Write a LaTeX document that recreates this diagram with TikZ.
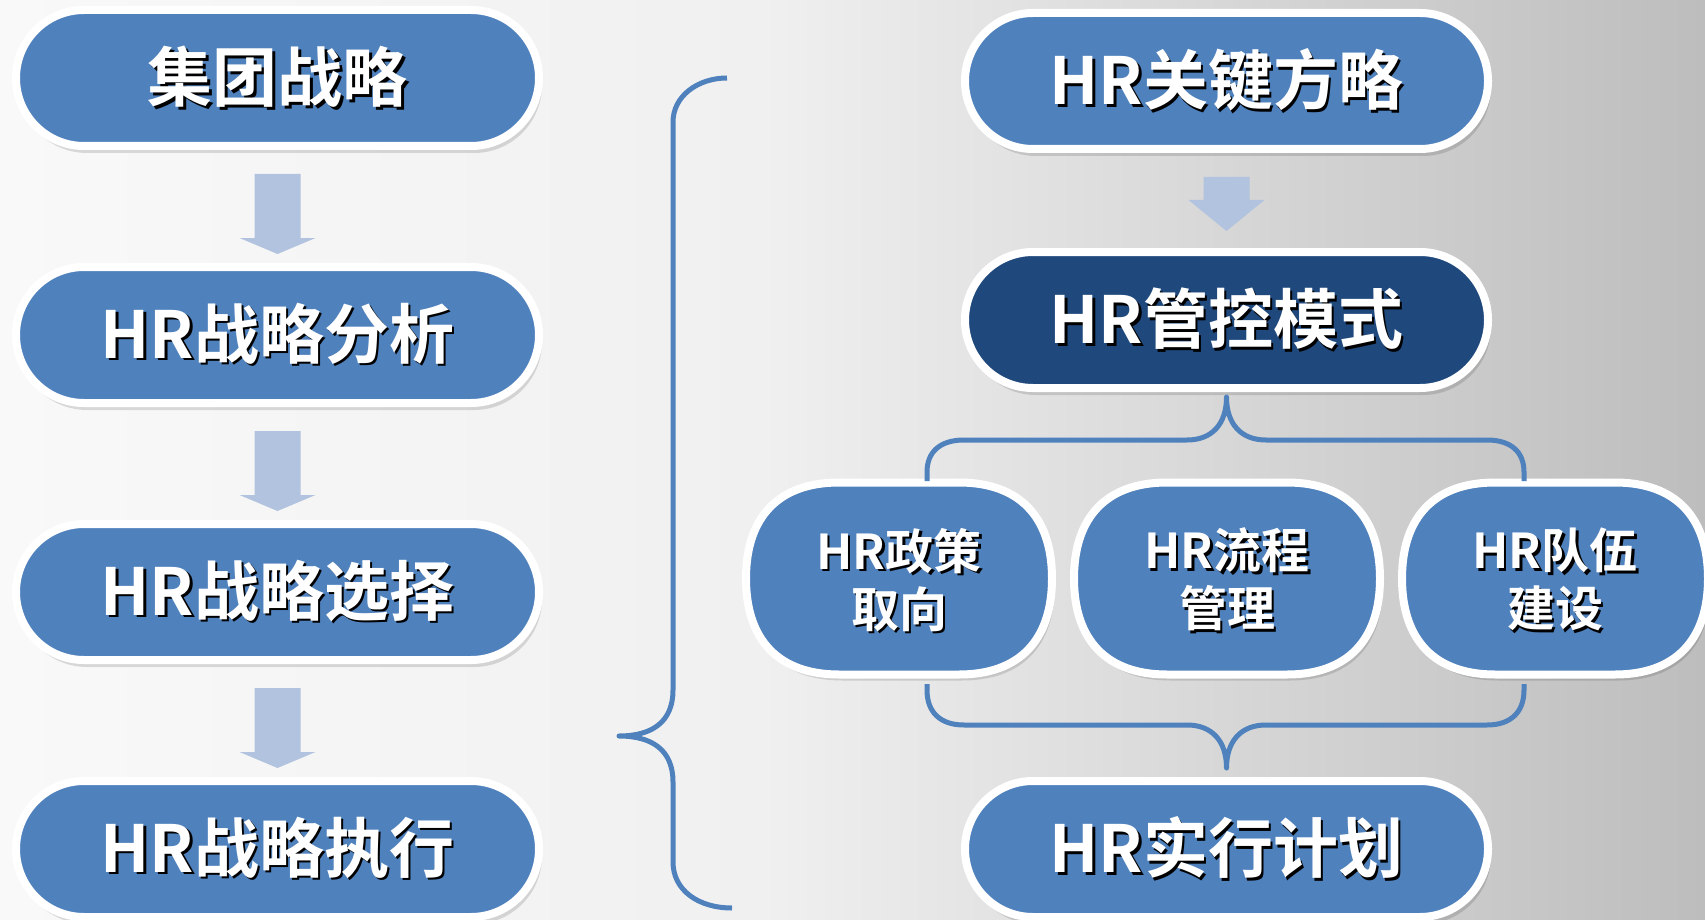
\documentclass[tikz,border=0pt]{standalone}
\usepackage{fontspec}
\newfontfamily\cjkb{Noto Sans CJK SC Bold}
\usetikzlibrary{calc,shadows}
\definecolor{pblue}{HTML}{4F81BD}
\definecolor{dblue}{HTML}{1F497D}
\definecolor{arrowc}{HTML}{B1C3DE}
\definecolor{bracec}{HTML}{4F81BD}
\definecolor{bgl}{HTML}{F9F9F9}
\definecolor{bgm}{HTML}{F0F0F0}
\definecolor{bgr}{HTML}{BDBDBD}
\newcommand\shd[1]{{\rlap{\kern2.5pt\raisebox{-2.5pt}{\color{black}#1}}\color{white}#1}}
% rounded blob: style, cx, cy
\newcommand\blobpath{(153,0) .. controls (153,62) and (120,96) .. (60,96) -- (-60,96) .. controls (-120,96) and (-153,62) .. (-153,0) .. controls (-153,-62) and (-120,-96) .. (-60,-96) -- (60,-96) .. controls (120,-96) and (153,-62) .. (153,0) -- cycle}
\newcommand\mysq[3]{%
  \fill[black,opacity=0.13,shift={(#2+3,#3+6)}] \blobpath;
  \draw[#1,shift={(#2,#3)}] \blobpath;}
% block arrow: from node, to node, head height, tip gap
\newcommand\barrow[4]{%
  \fill[arrowc] let \p1=(#1.south), \p2=(#2.north) in
    (\x1-23pt,\y1-24pt) -- (\x1+23pt,\y1-24pt) -- (\x1+23pt,\y2+#4pt+#3pt) -- (\x1+38pt,\y2+#4pt+#3pt)
    -- (\x1,\y2+#4pt) -- (\x1-38pt,\y2+#4pt+#3pt) -- (\x1-23pt,\y2+#4pt+#3pt) -- cycle;}
\begin{document}
\begin{tikzpicture}[x=1pt,y=-1pt,
  pill/.style={draw=white, line width=8pt, fill=pblue, rounded corners=68pt,
    minimum width=523pt, minimum height=136pt, inner sep=0pt, text=white,
    font=\cjkb\fontsize{65}{72}\selectfont,
    drop shadow={shadow xshift=3pt, shadow yshift=-7pt, opacity=0.13, fill=black}},
  darkpill/.style={pill, fill=dblue},
  sqstyle/.style={draw=white, line width=8pt, fill=pblue},
  ctext/.style={inner sep=0pt, text=white, align=center,
    font=\cjkb\fontsize{48}{58}\selectfont},
  brace/.style={draw=bracec, line width=5pt, line cap=butt, line join=round}]
\useasboundingbox (0,0) rectangle (1705,920);
\clip (0,0) rectangle (1705,920);
\shade[left color=bgl, right color=bgm] (0,0) rectangle (761,920);
\shade[left color=bgm, right color=bgr] (760,0) rectangle (1705,920);

% left column
\node[pill] (l1) at (277.5,78) {\shd{集团战略}};
\node[pill] (l2) at (277.5,335) {\shd{HR战略分析}};
\node[pill] (l3) at (277.5,592) {\shd{HR战略选择}};
\node[pill] (l4) at (277.5,849) {\shd{HR战略执行}};
\barrow{l1}{l2}{16}{9}
\barrow{l2}{l3}{16}{9}
\barrow{l3}{l4}{16}{9}

% right column
\node[pill] (r1) at (1226.5,81) {\shd{HR关键方略}};
\node[darkpill] (r2) at (1226.5,320) {\shd{HR管控模式}};
\node[pill] (r3) at (1226.5,849) {\shd{HR实行计划}};
\barrow{r1}{r2}{31}{17}

% three rounded blobs
\mysq{sqstyle}{899}{578.5}
\mysq{sqstyle}{1227}{578.5}
\mysq{sqstyle}{1555}{578.5}
\node[ctext] (c1) at (899,581) {\shd{HR政策}\\\shd{取向}};
\node[ctext] (c2) at (1227,581) {\shd{HR流程}\\\shd{管理}};
\node[ctext] (c3) at (1555,581) {\shd{HR队伍}\\\shd{建设}};

% big left brace
\coordinate (bt) at (727,78);
\coordinate (bb) at (732,908);
\coordinate (btip) at (619,736);
\draw[brace] (bt) .. controls (698,78) and (673,96) .. (673,122) -- (673,690)
  .. controls (673,722) and (652,736) .. (btip)
  .. controls (652,736) and (673,750) .. (673,782) -- (673,862)
  .. controls (673,890) and (698,908) .. (bb);

% upper brace
\coordinate (ua) at (927,481);
\coordinate (ub) at (1524,481);
\coordinate (utip) at (1226.5,397);
\draw[brace] (ua) -- (927,472) .. controls (927,452) and (940,440) .. (964,440) -- (1187,440)
  .. controls (1212,440) and (1226.5,424) .. (utip)
  .. controls (1226.5,424) and (1241,440) .. (1266,440) -- (1487,440)
  .. controls (1511,440) and (1524,452) .. (1524,472) -- (ub);

% lower brace
\coordinate (la) at (927,684);
\coordinate (lb) at (1524,684);
\coordinate (ltip) at (1226.5,768);
\draw[brace] (la) -- (927,690) .. controls (927,712) and (940,725) .. (964,725) -- (1187,725)
  .. controls (1212,725) and (1226.5,741) .. (ltip)
  .. controls (1226.5,741) and (1241,725) .. (1266,725) -- (1487,725)
  .. controls (1511,725) and (1524,712) .. (1524,690) -- (lb);
\end{tikzpicture}
\end{document}
